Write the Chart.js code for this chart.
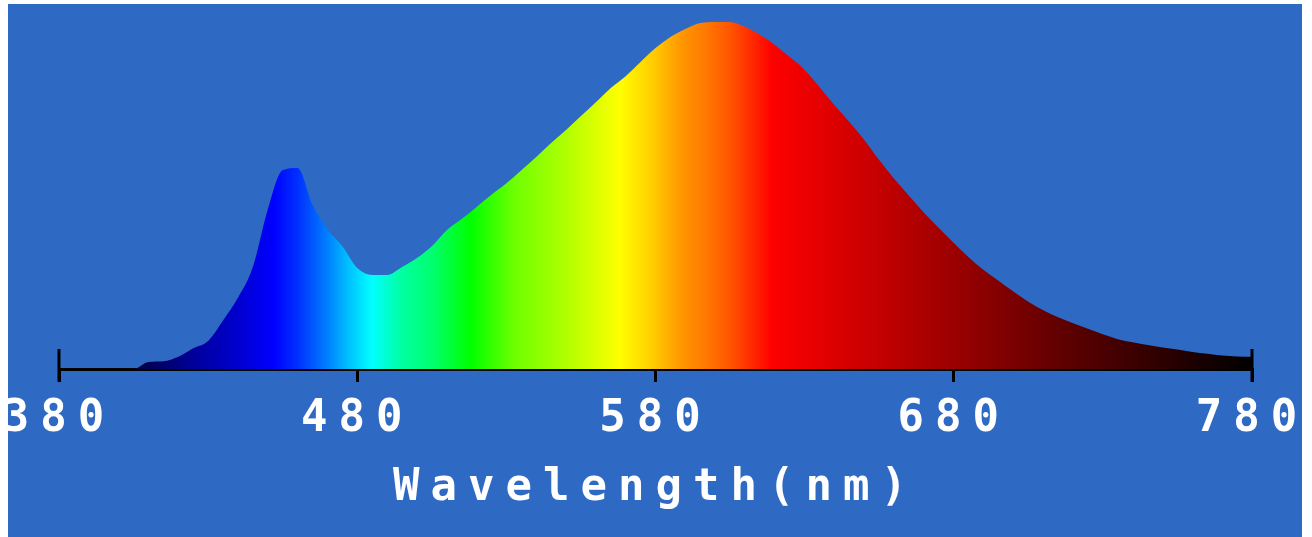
<!DOCTYPE html>
<html><head><meta charset="utf-8">
<script src="https://cdn.jsdelivr.net/npm/chart.js@4/dist/chart.umd.min.js"></script>
<style>
html,body{margin:0;padding:0;background:#fff;}
#wrap{position:absolute;left:8px;top:4px;width:1294px;height:533px;background:#2E69C3;}
canvas{display:block;}
</style></head><body>
<div id="wrap"><canvas id="c" width="1294" height="533"></canvas></div>
<script>
// ---- data ----
const wavelengths = [380,385,390,395,400,405,410,415,420,425,430,435,440,445,450,455,460,465,470,475,480,485,490,495,500,505,510,515,520,525,530,535,540,545,550,555,560,565,570,575,580,585,590,595,600,605,610,615,620,625,630,635,640,645,650,655,660,665,670,675,680,685,690,695,700,705,710,715,720,725,730,735,740,745,750,755,760,765,770,775,780];
const intensity = [0,0,0,0,0,0,2.0,2.2,3.5,6.0,8.1,14.0,20.5,29.4,46.0,57.3,57.9,47.3,40.3,35.4,29.1,27.1,27.1,29.4,32.0,35.4,40.0,43.2,46.7,50.2,53.5,57.3,61.1,65.1,68.9,72.9,76.9,81.0,84.4,88.5,92.5,95.7,98.0,99.7,100,100,98.6,96.3,93.4,89.9,86.2,81.2,76.0,71.2,66.0,60.2,54.8,49.9,45.0,40.6,36.3,32.2,28.5,25.4,22.3,19.4,16.9,14.9,13.2,11.6,10.0,8.6,7.7,6.9,6.2,5.6,4.9,4.4,3.9,3.6,3.5];
const tickValues = [380,480,580,680,780];
const axisTitle = 'Wavelength(nm)';

// ---- styles ----
const spectrumStops = [
  [380,'#000010'],[405,'#000040'],[412,'#000060'],[425,'#00009a'],[440,'#0000d0'],[452,'#0000ff'],
  [460,'#0030ff'],[470,'#0080ff'],[477,'#00c0ff'],[485,'#00ffff'],[495,'#00ffa0'],[505,'#00ff70'],
  [518,'#00ff00'],[533,'#70ff00'],[550,'#b0ff00'],[568,'#ffff00'],[580,'#ffc800'],[588,'#ff9a00'],
  [597,'#ff7800'],[605,'#ff5500'],[614,'#ff2000'],[619,'#ff0000'],[640,'#dc0000'],[680,'#9c0000'],
  [710,'#6a0000'],[740,'#3c0000'],[780,'#000000']
];
const SPACING = '11px';
const FONT = {family:'"DejaVu Sans Mono", monospace', size:44, weight:'bold'};

const pts = wavelengths.map((w,i)=>({x:w, y:intensity[i]}));

const capsPlugin = {
  id:'caps',
  beforeLayout(chart){ chart.ctx.letterSpacing = SPACING; },
  beforeDraw(chart){ chart.ctx.letterSpacing = SPACING; },
  afterDraw(chart){
    const {ctx, chartArea, scales:{x}} = chart;
    ctx.save();
    ctx.strokeStyle = '#000'; ctx.lineWidth = 3;
    [tickValues[0], tickValues[tickValues.length-1]].forEach(v=>{
      const px = Math.round(x.getPixelForValue(v));
      ctx.beginPath(); ctx.moveTo(px, chartArea.bottom-20); ctx.lineTo(px, chartArea.bottom+13); ctx.stroke();
    });
    ctx.restore();
  }
};

new Chart(document.getElementById('c'), {
  type:'line',
  data:{datasets:[{
    data:pts,
    fill:'start',
    borderWidth:0,
    borderColor:'rgba(0,0,0,0)',
    pointRadius:0,
    cubicInterpolationMode:'monotone',
    backgroundColor(ctx){
      const chart = ctx.chart;
      if(!chart.chartArea) return 'rgba(0,0,0,0)';
      const x = chart.scales.x;
      const a = x.getPixelForValue(tickValues[0]), b = x.getPixelForValue(tickValues[tickValues.length-1]);
      const g = chart.ctx.createLinearGradient(a,0,b,0);
      spectrumStops.forEach(([nm,c])=>g.addColorStop((nm-tickValues[0])/(tickValues[tickValues.length-1]-tickValues[0]), c));
      return g;
    }
  }]},
  options:{
    responsive:false, animation:false, devicePixelRatio:1,
    layout:{autoPadding:false, padding:{left:51, right:50, top:18, bottom:0}},
    plugins:{legend:{display:false}, tooltip:{enabled:false}},
    scales:{
      y:{display:false, min:0, max:100},
      x:{
        type:'linear', min:380, max:780,
        afterBuildTicks(s){ s.ticks = tickValues.map(v=>({value:v})); },
        afterFit(s){ s.height = 533-365; s.paddingLeft = 0; s.paddingRight = 0; },
        grid:{drawOnChartArea:false, drawTicks:true, tickLength:13, color:'#000', lineWidth:3},
        border:{display:true, color:'#000', width:3},
        ticks:{color:'#fff', font:FONT, padding:11, maxRotation:0, autoSkip:false, callback:v=>String(v)},
        title:{display:true, text:axisTitle, color:'#fff', font:FONT, padding:{top:0, bottom:22}}
      }
    }
  },
  plugins:[capsPlugin]
});
</script>
</body></html>
